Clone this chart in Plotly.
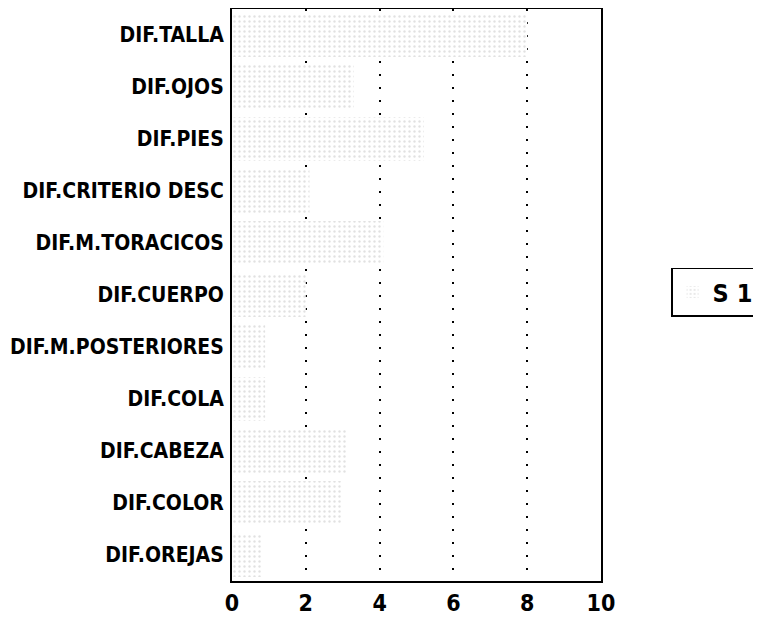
import plotly.graph_objects as go

categories = ["DIF.TALLA", "DIF.OJOS", "DIF.PIES", "DIF.CRITERIO DESC", "DIF.M.TORACICOS",
              "DIF.CUERPO", "DIF.M.POSTERIORES", "DIF.COLA", "DIF.CABEZA", "DIF.COLOR", "DIF.OREJAS"]
values = [8.0, 3.3, 5.2, 2.1, 4.1, 2.0, 0.9, 0.9, 3.1, 3.0, 0.8]
series_name = "S 1"
x_ticks = [0, 2, 4, 6, 8, 10]

FONT = "DejaVu Sans Condensed, Liberation Sans Narrow, Arial Narrow, sans-serif"

fig = go.Figure()
fig.add_trace(go.Bar(
    y=categories, x=values, orientation="h", name=series_name,
    marker=dict(color="#ffffff", line=dict(width=0),
                pattern=dict(shape=".", fgcolor="#c4c4c4", bgcolor="#ffffff",
                             size=5, solidity=0.18)),
    showlegend=True,
))

fig.update_layout(
    width=753, height=614,
    margin=dict(l=224, r=160, t=1, b=41, autoexpand=False),
    paper_bgcolor="white", plot_bgcolor="white",
    bargap=0.15,
    font=dict(family=FONT, size=20, color="black"),
    legend=dict(x=1.19, y=0.505, xanchor="left", yanchor="middle",
                bordercolor="black", borderwidth=1.5, bgcolor="white",
                font=dict(family=FONT, size=25, color="black", weight="bold"),
                itemsizing="constant", itemwidth=30),
)
fig.update_xaxes(
    range=[0, 10], tickvals=x_ticks, ticktext=[str(t) for t in x_ticks],
    showgrid=True, gridcolor="black", gridwidth=2, griddash="2px,11px",
    showline=True, linecolor="black", linewidth=2, mirror=True,
    ticks="", zeroline=False, automargin=False,
    tickfont=dict(family=FONT, size=23, color="black", weight="bold"),
)
fig.update_yaxes(
    categoryorder="array", categoryarray=categories, autorange="reversed",
    showline=True, linecolor="black", linewidth=2, mirror=True,
    ticks="", showgrid=False, ticklabelstandoff=2, automargin=False,
    tickfont=dict(family=FONT, size=21, color="black", weight="bold"),
)

fig.write_html("out.html")
